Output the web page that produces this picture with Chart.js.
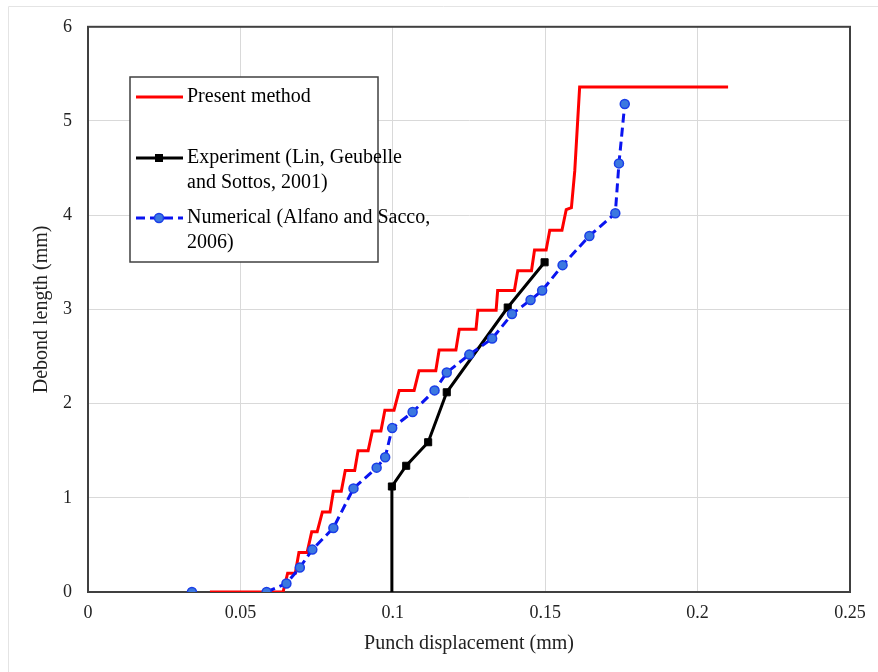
<!DOCTYPE html>
<html>
<head>
<meta charset="utf-8">
<script src="https://cdn.jsdelivr.net/npm/chart.js@4/dist/chart.umd.min.js"></script>
<style>
  html, body { margin: 0; padding: 0; background: #fff; }
  #wrap { position: relative; width: 878px; height: 672px; }
</style>
</head>
<body>
<div id="wrap"><canvas id="debondChart" width="878" height="672"></canvas></div>
<script>
// Present method (staircase path)
const presentX = [0.040, 0.064, 0.0655, 0.068, 0.0692, 0.0719, 0.0734, 0.0752, 0.0769, 0.0794, 0.0805, 0.0831,
  0.0844, 0.0875, 0.0886, 0.0919, 0.0933, 0.0961, 0.0974, 0.1004, 0.1021, 0.1070, 0.1086, 0.1141, 0.1152,
  0.1207, 0.1218, 0.1273, 0.1279, 0.1339, 0.1344, 0.1399, 0.1410, 0.1455, 0.1465, 0.1503, 0.1515, 0.1555,
  0.1569, 0.1586, 0.1597, 0.1613, 0.2100];
const presentY = [0, 0, 0.20, 0.20, 0.42, 0.42, 0.64, 0.64, 0.85, 0.85, 1.07, 1.07,
  1.29, 1.29, 1.50, 1.50, 1.71, 1.71, 1.93, 1.93, 2.14, 2.14, 2.35, 2.35, 2.57,
  2.57, 2.79, 2.79, 2.99, 2.99, 3.20, 3.20, 3.41, 3.41, 3.63, 3.63, 3.84, 3.84,
  4.06, 4.08, 4.47, 5.36, 5.36];

// Experiment (Lin, Geubelle and Sottos, 2001)
const expX = [0.0997, 0.0997, 0.1044, 0.1116, 0.1177, 0.1377, 0.1498];
const expY = [0, 1.12, 1.34, 1.59, 2.12, 3.02, 3.50];

// Numerical (Alfano and Sacco, 2006); the first point stands alone
const numX = [0.0341, 0.0586, 0.0651, 0.0695, 0.0736, 0.0805, 0.0871, 0.0947, 0.0975, 0.0998, 0.1065,
  0.1137, 0.1177, 0.1251, 0.1326, 0.1391, 0.1452, 0.1490, 0.1557, 0.1645, 0.1730, 0.1742, 0.1761];
const numY = [0, 0, 0.09, 0.26, 0.45, 0.68, 1.10, 1.32, 1.43, 1.74, 1.91,
  2.14, 2.33, 2.52, 2.69, 2.95, 3.10, 3.20, 3.47, 3.78, 4.02, 4.55, 5.18];
const numBreakAfter = 0;

const xTicks = [0, 0.05, 0.1, 0.15, 0.2, 0.25];
const yTicks = [0, 1, 2, 3, 4, 5, 6];

const legendLines = [
  ['Present method'],
  ['Experiment (Lin, Geubelle', 'and Sottos, 2001)'],
  ['Numerical (Alfano and Sacco,', '2006)']
];

const serif = "'Liberation Serif', 'Times New Roman', serif";

function toPoints(xs, ys, breakAfter) {
  const pts = [];
  xs.forEach((x, i) => {
    pts.push({ x: x, y: ys[i] });
    if (i === breakAfter) pts.push({ x: null, y: null });
  });
  return pts;
}

// legend box drawn inside the plot, plus the faint outer frame
const boxedLegend = {
  id: 'boxedLegend',
  beforeDraw(chart) {
    const ctx = chart.ctx;
    ctx.save();
    ctx.strokeStyle = '#e4e4e4';
    ctx.lineWidth = 1;
    ctx.beginPath();
    ctx.moveTo(8.5, 672);
    ctx.lineTo(8.5, 6.5);
    ctx.lineTo(878, 6.5);
    ctx.stroke();
    ctx.restore();
  },
  afterDraw(chart) {
    const ctx = chart.ctx;
    const bx = 130, by = 77, bw = 248, bh = 185;
    ctx.save();
    ctx.fillStyle = '#fff';
    ctx.fillRect(bx, by, bw, bh);
    ctx.strokeStyle = '#404040';
    ctx.lineWidth = 1.5;
    ctx.strokeRect(bx, by, bw, bh);

    const rows = [97, 158, 218];
    ctx.font = '20px ' + serif;
    ctx.textBaseline = 'middle';
    ctx.fillStyle = '#000';
    chart.data.datasets.forEach((ds, i) => {
      const y = rows[i];
      ctx.strokeStyle = ds.borderColor;
      ctx.lineWidth = ds.borderWidth;
      ctx.setLineDash(ds.borderDash || []);
      ctx.beginPath();
      ctx.moveTo(136, y);
      ctx.lineTo(183, y);
      ctx.stroke();
      ctx.setLineDash([]);
      if (i === 1) {
        ctx.fillStyle = '#000';
        ctx.fillRect(155, y - 4, 8, 8);
      } else if (i === 2) {
        ctx.fillStyle = ds.pointBackgroundColor;
        ctx.strokeStyle = ds.pointBorderColor;
        ctx.lineWidth = 1.5;
        ctx.beginPath();
        ctx.arc(159, y, 4.5, 0, Math.PI * 2);
        ctx.fill();
        ctx.stroke();
      }
      ctx.fillStyle = '#000';
      legendLines[i].forEach((txt, k) => {
        ctx.fillText(txt, 187, y + k * 25);
      });
    });
    ctx.restore();
  }
};

const ctx = document.getElementById('debondChart').getContext('2d');

new Chart(ctx, {
  type: 'scatter',
  data: {
    datasets: [{
      label: 'Present method',
      data: toPoints(presentX, presentY, -1),
      showLine: true,
      borderColor: '#ff0000',
      backgroundColor: '#ff0000',
      borderWidth: 3,
      pointRadius: 0,
      tension: 0,
      order: 3
    }, {
      label: 'Experiment (Lin, Geubelle and Sottos, 2001)',
      data: toPoints(expX, expY, -1),
      showLine: true,
      borderColor: '#000000',
      backgroundColor: '#000000',
      borderWidth: 3,
      pointStyle: 'rect',
      pointRadius: expX.map((x, i) => i === 0 ? 0 : 5),
      pointBackgroundColor: '#000000',
      pointBorderColor: '#000000',
      pointBorderWidth: 1,
      order: 2
    }, {
      label: 'Numerical (Alfano and Sacco, 2006)',
      data: toPoints(numX, numY, numBreakAfter),
      showLine: true,
      spanGaps: false,
      borderColor: '#0a14f0',
      backgroundColor: '#0a14f0',
      borderWidth: 3,
      borderDash: [9, 5],
      pointStyle: 'circle',
      pointRadius: 4.5,
      pointBackgroundColor: '#3b78e0',
      pointBorderColor: '#1a3ee8',
      pointBorderWidth: 1.5,
      order: 1
    }]
  },
  options: {
    responsive: false,
    animation: false,
    layout: { padding: { top: 25, right: 28, left: 0, bottom: 0 } },
    plugins: {
      legend: { display: false },
      tooltip: { enabled: false }
    },
    scales: {
      x: {
        type: 'linear',
        min: 0,
        max: 0.25,
        afterFit(scale) { scale.height = 80; },
        afterBuildTicks(scale) { scale.ticks = xTicks.map(v => ({ value: v })); },
        grid: { color: '#d9d9d9', lineWidth: 1, drawTicks: false },
        border: { display: true, color: '#404040', width: 2 },
        ticks: {
          padding: 10,
          color: '#222',
          font: { family: serif, size: 18 },
          callback: v => String(v)
        },
        title: {
          display: true,
          text: 'Punch displacement (mm)',
          color: '#222',
          font: { family: serif, size: 20 },
          padding: { top: 0, bottom: 16 }
        }
      },
      y: {
        type: 'linear',
        min: 0,
        max: 6,
        afterFit(scale) { scale.width = 88; },
        afterBuildTicks(scale) { scale.ticks = yTicks.map(v => ({ value: v })); },
        grid: { color: '#d9d9d9', lineWidth: 1, drawTicks: false },
        border: { display: true, color: '#404040', width: 2 },
        ticks: {
          padding: 16,
          color: '#222',
          font: { family: serif, size: 18 }
        },
        title: {
          display: true,
          text: 'Debond length (mm)',
          color: '#222',
          font: { family: serif, size: 20 },
          padding: { top: 30, bottom: 0 }
        }
      }
    }
  },
  plugins: [boxedLegend, {
    // dark frame around the plot area
    id: 'plotFrame',
    beforeDatasetsDraw(chart) {
      const a = chart.chartArea;
      const c = chart.ctx;
      c.save();
      c.strokeStyle = '#404040';
      c.lineWidth = 2;
      c.strokeRect(a.left, a.top, a.right - a.left, a.bottom - a.top);
      c.restore();
    }
  }]
});
</script>
</body>
</html>
